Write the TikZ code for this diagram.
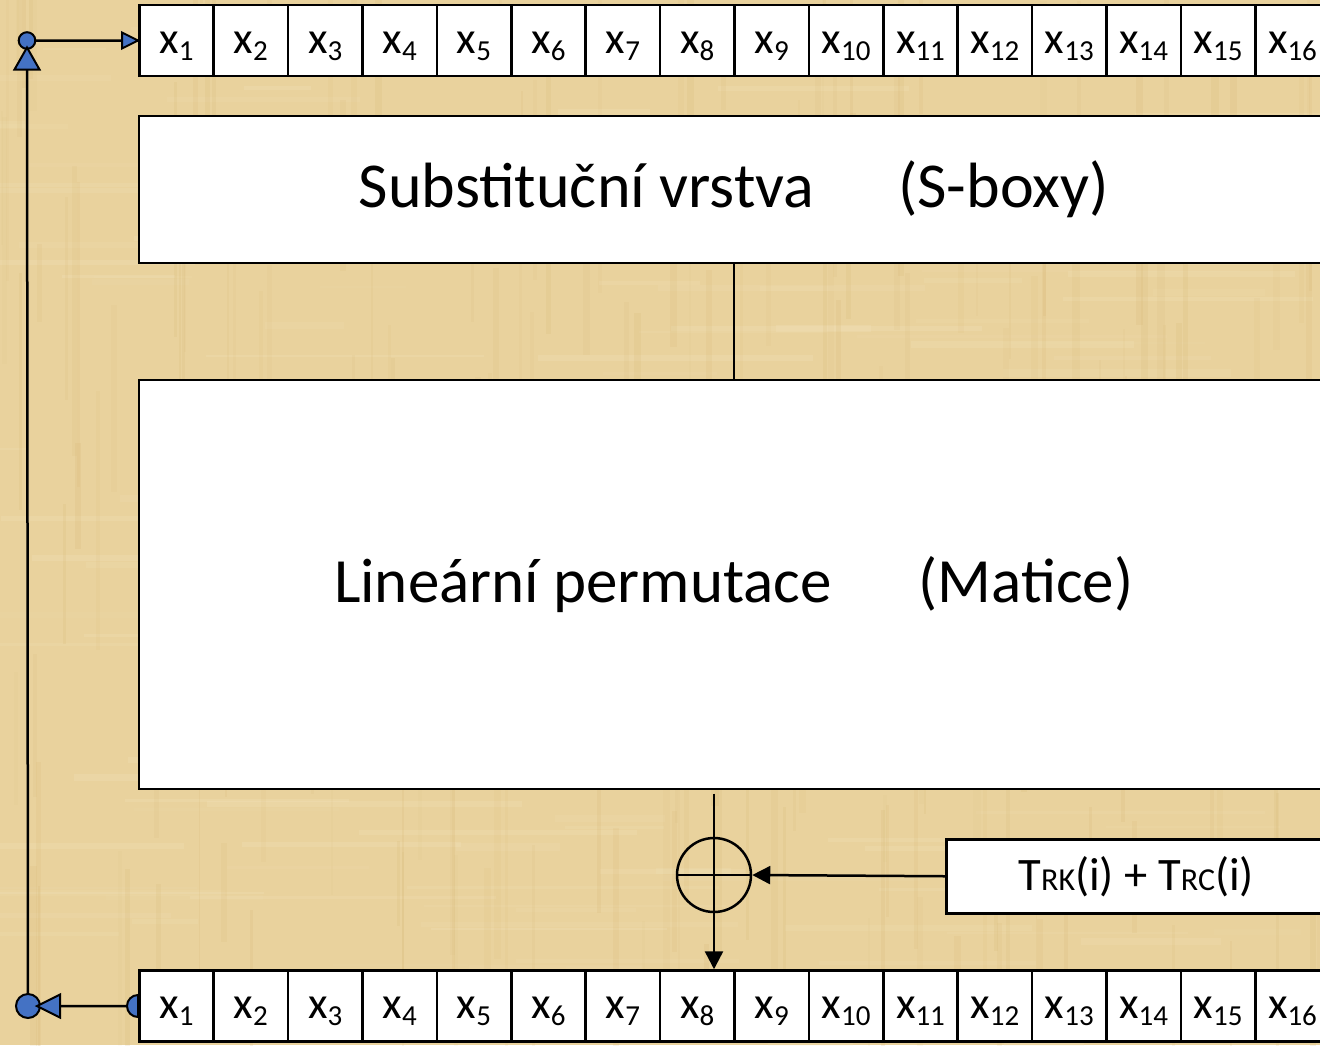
\documentclass[tikz,border=0pt]{standalone}
\usepackage{fontspec}
\setmainfont{Carlito}
\usetikzlibrary{arrows.meta}
\definecolor{papyrus}{HTML}{E9D29D}
\definecolor{papyrusdark}{HTML}{D4B36E}
\definecolor{papyruslight}{HTML}{F5E8C4}
\definecolor{connblue}{HTML}{4472C4}
% register cell label: x with a subscript index
\newcommand{\cellx}[1]{{\fontsize{45}{45}\selectfont x}\raisebox{-7pt}{\fontsize{29}{29}\selectfont #1}}
\newcommand{\smallcap}[1]{{\fontsize{32}{32}\selectfont #1}}
\begin{document}
\begin{tikzpicture}[x=1pt,y=-1pt,
  cell/.style={draw, line width=2.5pt, fill=white, minimum width=74.4pt,
    minimum height=71pt, inner sep=0pt, anchor=west,
    text height=32pt, text depth=7pt},
  bigbox/.style={draw, line width=1.5pt, fill=white, inner sep=0pt,
    anchor=north west},
  flow/.style={line width=2.5pt},
  tip/.style={-{Triangle[length=18pt,width=18pt]}},
  marker/.style={fill=connblue, draw=black, line width=2pt}]

\clip (0,0) rectangle (1320,1045);
\useasboundingbox (0,0) rectangle (1320,1045);

% papyrus background with fibre-like strips
\fill[papyrus] (0,0) rectangle (1320,1045);
\pgfmathsetseed{17}
\foreach \k in {1,...,220} {
  \pgfmathsetmacro{\px}{rnd*1320-100}
  \pgfmathsetmacro{\py}{rnd*1045}
  \pgfmathsetmacro{\pl}{60+rnd*260}
  \pgfmathsetmacro{\ph}{1.5+rnd*6}
  \pgfmathsetmacro{\po}{0.06+rnd*0.16}
  \fill[papyruslight, opacity=\po] (\px,\py) rectangle ++(\pl,\ph);
}
\foreach \k in {1,...,220} {
  \pgfmathsetmacro{\px}{rnd*1320}
  \pgfmathsetmacro{\py}{rnd*1045-100}
  \pgfmathsetmacro{\pl}{60+rnd*260}
  \pgfmathsetmacro{\ph}{1.5+rnd*6}
  \pgfmathsetmacro{\po}{0.05+rnd*0.12}
  \fill[papyrusdark, opacity=\po] (\px,\py) rectangle ++(\ph,\pl);
}

% input and output registers
\foreach \i in {1,...,16} {
  \node[cell] (t\i) at ({138+(\i-1)*74.4}, 40.5) {\cellx{\i}};
  \node[cell] (b\i) at ({138+(\i-1)*74.4}, 1006) {\cellx{\i}};
}

% round layers
\node[bigbox, minimum width=1190pt, minimum height=147pt,
  font=\fontsize{64}{64}\selectfont] (sbox) at (138,115)
  {Substituční vrstva\hspace{84pt}(S-boxy)};
\node[bigbox, minimum width=1190pt, minimum height=409pt,
  font=\fontsize{63}{63}\selectfont] (lbox) at (138,379)
  {Lineární permutace\hspace{87pt}(Matice)};
\draw[flow] (sbox.south) -- (lbox.north);

% key and round-constant addition
\node[circle, draw, line width=2.5pt, minimum size=74pt, inner sep=0pt] (xor) at (714,875) {};
\node[bigbox, line width=2.5pt, minimum width=380pt, minimum height=74pt,
  font=\fontsize{46.5}{46.5}\selectfont] (tbox) at (945,838)
  {T\smallcap{RK}(i) + T\smallcap{RC}(i)};
\draw[flow] (xor.west) -- (xor.east);
\draw[flow, tip] ([yshift=-4pt]lbox.south -| xor) -- (xor |- b8.north);
\draw[flow, tip] (tbox.west) -- (xor.east);

% feedback loop from output register back to input register
\path (b1.west) ++(-110,0) coordinate (cb);
\path (t1.west) ++(-111,0) coordinate (ct);
\draw[flow] (b1.west) -- (cb) -- (ct) -- (t1.west);
\filldraw[marker] (b1.west) ++(0,11) arc[start angle=90, end angle=270, radius=11] -- cycle;
\filldraw[marker] (cb) circle (12);
\filldraw[marker] ([xshift=9pt]cb) -- ++(23,-11.5) -- ++(0,23) -- cycle;
\filldraw[marker] (ct) circle (8.3);
\filldraw[marker] ([yshift=-7pt]ct) -- ++(-12.5,22) -- ++(25,0) -- cycle;
\filldraw[marker] (t1.west) -- ++(-16,-8) -- ++(0,16) -- cycle;
\end{tikzpicture}
\end{document}
